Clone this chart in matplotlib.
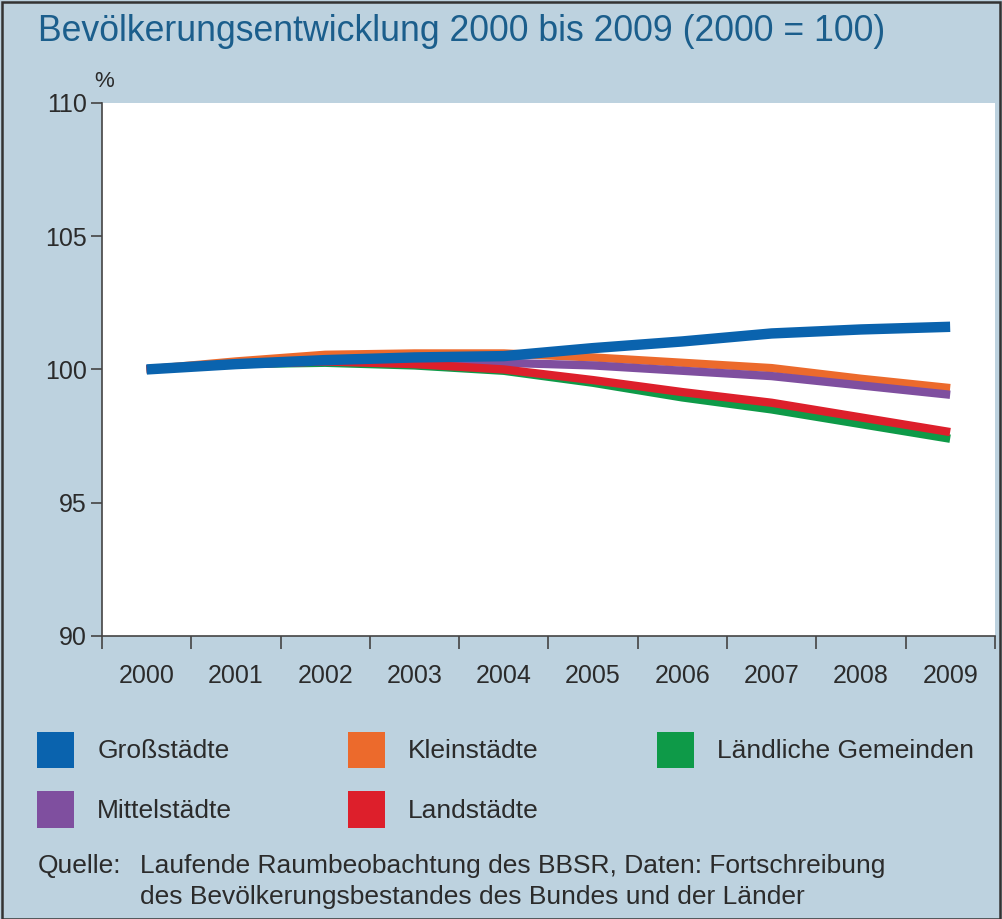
import numpy as np
import matplotlib.pyplot as plt
from matplotlib.patches import Rectangle

plt.rcParams['font.family'] = ['Liberation Sans', 'DejaVu Sans']

years = ['2000', '2001', '2002', '2003', '2004', '2005', '2006', '2007', '2008', '2009']

grossstaedte = [100.0, 100.2, 100.35, 100.45, 100.5, 100.8, 101.05, 101.35, 101.5, 101.6]
kleinstaedte = [100.0, 100.3, 100.55, 100.6, 100.6, 100.45, 100.25, 100.05, 99.65, 99.3]
mittelstaedte = [100.0, 100.2, 100.3, 100.3, 100.25, 100.15, 99.95, 99.75, 99.4, 99.05]
landstaedte = [100.0, 100.2, 100.3, 100.2, 100.0, 99.6, 99.15, 98.75, 98.2, 97.65]
laendliche = [100.0, 100.2, 100.25, 100.15, 99.95, 99.5, 98.95, 98.5, 97.95, 97.4]

c_blue = '#0a63ae'
c_orange = '#ec6a2c'
c_green = '#0e9a48'
c_purple = '#7f4f9f'
c_red = '#dd1f2b'
bg = '#bdd2df'
text_col = '#2b2b2b'

fig = plt.figure(figsize=(10.02, 9.19), dpi=100)
fig.patch.set_facecolor(bg)
fig.patches.append(Rectangle((0.002, 0.0), 0.996, 0.998, transform=fig.transFigure,
                             fill=False, edgecolor='#333333', linewidth=1.8))

ax = fig.add_axes([0.1018, 0.308, 0.891, 0.580])
ax.set_facecolor('white')

x = np.arange(len(years))
ax.plot(x, laendliche, color=c_green, linewidth=6, solid_capstyle='butt', zorder=2)
ax.plot(x, kleinstaedte, color=c_orange, linewidth=6, solid_capstyle='butt', zorder=3)
ax.plot(x, mittelstaedte, color=c_purple, linewidth=6, solid_capstyle='butt', zorder=4)
ax.plot(x, landstaedte, color=c_red, linewidth=6, solid_capstyle='butt', zorder=4)
ax.plot(x, grossstaedte, color=c_blue, linewidth=7.5, solid_capstyle='butt', zorder=5)

ax.set_xlim(-0.5, len(years) - 0.5)
ax.set_ylim(90, 110)
ax.set_yticks([90, 95, 100, 105, 110])
ax.set_xticks(np.arange(-0.5, len(years)))
ax.set_xticklabels([])
ax.set_xticks(x, minor=True)
ax.set_xticklabels(years, minor=True)
ax.tick_params(axis='x', which='minor', length=0, pad=20, labelsize=18, labelcolor=text_col)
ax.tick_params(axis='x', which='major', length=9, width=1.2, color='#444444', direction='out')
ax.tick_params(axis='y', length=8, width=1.2, color='#444444', labelsize=18,
               labelcolor=text_col, pad=3)

for s in ['top', 'right']:
    ax.spines[s].set_visible(False)
for s in ['left', 'bottom']:
    ax.spines[s].set_color('#444444')
    ax.spines[s].set_linewidth(1.2)

fig.text(0.094, 0.905, '%', fontsize=16, color=text_col)

fig.text(0.038, 0.966, 'Bevölkerungsentwicklung 2000 bis 2009 (2000 = 100)',
         fontsize=25.7, color='#1b5e8c', va='center')

# legend
legend_items = [
    ('Großstädte', c_blue, 0.037, 0.164),
    ('Kleinstädte', c_orange, 0.347, 0.164),
    ('Ländliche Gemeinden', c_green, 0.656, 0.164),
    ('Mittelstädte', c_purple, 0.037, 0.099),
    ('Landstädte', c_red, 0.347, 0.099),
]
for label, col, lx, ly in legend_items:
    fig.patches.append(Rectangle((lx, ly), 0.037, 0.040, transform=fig.transFigure,
                                 facecolor=col, edgecolor='none'))
    fig.text(lx + 0.060, ly + 0.019, label, fontsize=19, color=text_col, va='center')

fig.text(0.038, 0.058, 'Quelle:', fontsize=19, color=text_col, va='center')
fig.text(0.140, 0.058, 'Laufende Raumbeobachtung des BBSR, Daten: Fortschreibung',
         fontsize=19, color=text_col, va='center')
fig.text(0.140, 0.024, 'des Bevölkerungsbestandes des Bundes und der Länder',
         fontsize=19, color=text_col, va='center')

fig.savefig('out.png', dpi=100, facecolor=bg)
